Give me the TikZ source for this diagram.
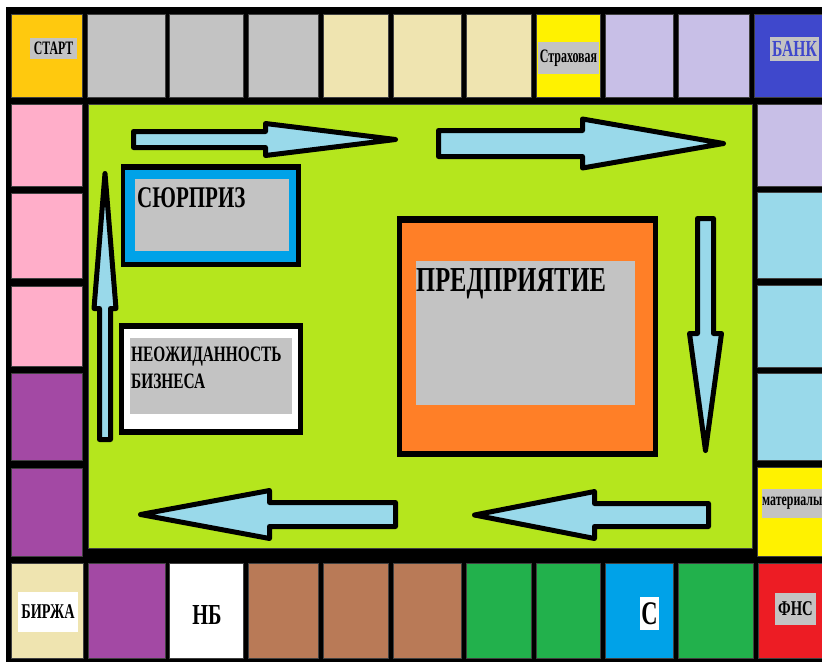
\documentclass[tikz,border=0pt]{standalone}
\usepackage{fontspec}
\setmainfont{Liberation Serif}
\usepackage{graphicx}

\definecolor{startyel}{HTML}{FFC90E}
\definecolor{cellgray}{HTML}{C3C3C3}
\definecolor{sand}{HTML}{EFE4B0}
\definecolor{paintyel}{HTML}{FFF200}
\definecolor{lilac}{HTML}{C8BFE7}
\definecolor{bankblue}{HTML}{3F48CC}
\definecolor{rosepink}{HTML}{FFAEC9}
\definecolor{plum}{HTML}{A349A4}
\definecolor{skyblue}{HTML}{99D9EA}
\definecolor{boardgreen}{HTML}{B5E61D}
\definecolor{clay}{HTML}{B97A57}
\definecolor{grassgreen}{HTML}{22B14C}
\definecolor{seablue}{HTML}{00A2E8}
\definecolor{paintred}{HTML}{ED1C24}
\definecolor{paintorange}{HTML}{FF7F27}

\newcommand{\narrowtxt}[2][0.7]{\scalebox{#1}[1]{#2}}

\tikzset{
  cell/.style={draw=black!75, line width=0.8pt},
  flow/.style={fill=skyblue, draw=black, line width=5pt, line join=round},
  tag/.style={fill=cellgray, inner sep=0pt},
  lbl/.style={font=\bfseries\fontsize{#1}{#1}\selectfont, inner sep=0pt}
}

\begin{document}
\begin{tikzpicture}[x=1pt, y=-1pt]
    \useasboundingbox (0,0) rectangle (822,662);
    % Board background
    \fill[white] (0,0) rectangle (822,662);
    \fill[black] (6,7) rectangle (822,662);
    % Top row
    \foreach \a/\b/\c in {11/82/startyel, 87/165/cellgray, 169/243/cellgray,
        248/318/cellgray, 323/388/sand, 393/461/sand, 466/531/sand,
        536/600/paintyel, 605/673/lilac, 678/749/lilac, 754/826/bankblue}
        \filldraw[cell, fill=\c] (\a,14) rectangle (\b,97);
    % Bottom row
    \foreach \a/\b/\c in {11/83/sand, 88/165/plum, 169/243/white,
        248/318/clay, 323/388/clay, 393/461/clay, 466/531/grassgreen,
        536/600/grassgreen, 605/673/seablue, 678/753/grassgreen, 758/826/paintred}
        \filldraw[cell, fill=\c] (\a,563) rectangle (\b,658);
    % Left column
    \foreach \a/\b/\c in {104/186/rosepink, 193/278/rosepink, 286/366/rosepink,
        373/460/plum, 468/556/plum}
        \filldraw[cell, fill=\c] (11,\a) rectangle (82,\b);
    % Right column
    \foreach \a/\b/\c in {104/186/lilac, 192/278/skyblue, 285/367/skyblue,
        373/460/skyblue, 467/556/paintyel}
        \filldraw[cell, fill=\c] (757,\a) rectangle (826,\b);
    % Playing field
    \filldraw[cell, fill=boardgreen] (88,104) rectangle (752,548);
    % Surprise card box
    \fill[black] (121,164) rectangle (301,267);
    \fill[seablue] (125,170) rectangle (296,262);
    \fill[cellgray] (135,179) rectangle (289,251);
    % Business card box
    \fill[black] (119,323) rectangle (303,435);
    \fill[white] (124,329) rectangle (298,429);
    \fill[cellgray] (130,338) rectangle (292,414);
    % Enterprise box
    \fill[black] (397,216) rectangle (658,457);
    \fill[paintorange] (402,223) rectangle (653,451);
    \fill[cellgray] (416,261) rectangle (635,405);
    % Direction arrows
    \filldraw[flow] (133.5,131.5) -- (265.5,131.5) -- (265.5,123.5) -- (395.5,139.5)
        -- (265.5,155.5) -- (265.5,147.5) -- (133.5,147.5) -- cycle;
    \filldraw[flow] (438.5,130.5) -- (582.5,130.5) -- (582.5,119) -- (723.5,143.5)
        -- (582.5,168) -- (582.5,156.5) -- (438.5,156.5) -- cycle;
    \filldraw[flow] (697.5,218.5) -- (697.5,333.5) -- (689.5,333.5) -- (705.5,450.5)
        -- (721.5,333.5) -- (713.5,333.5) -- (713.5,218.5) -- cycle;
    \filldraw[flow] (708.5,503.5) -- (594.5,503.5) -- (594.5,491.5) -- (474.5,515)
        -- (594.5,538.5) -- (594.5,526.5) -- (708.5,526.5) -- cycle;
    \filldraw[flow] (395.5,502.5) -- (269.5,502.5) -- (269.5,490.5) -- (140.5,514.5)
        -- (269.5,538.5) -- (269.5,526.5) -- (395.5,526.5) -- cycle;
    \filldraw[flow] (99.5,439.5) -- (99.5,308.5) -- (94,308.5) -- (105,173.5)
        -- (116,308.5) -- (110.5,308.5) -- (110.5,439.5) -- cycle;
    % Cell labels
    \node[tag, lbl=19, minimum width=47, minimum height=21] (start) at (53.5,48.5) {\narrowtxt[0.62]{СТАРТ}};
    \node[tag, lbl=19, minimum width=61, minimum height=32] (insure) at (568.5,58) {\narrowtxt[0.63]{Страховая}};
    \node[tag, lbl=23, text=bankblue, minimum width=49, minimum height=24] (bank) at (794.5,49) {\narrowtxt[0.68]{БАНК}};
    \node[tag, lbl=21, fill=white, minimum width=60, minimum height=40] (exchange) at (48,612) {\narrowtxt[0.68]{БИРЖА}};
    \node[lbl=29] (nb) at (207,615) {\narrowtxt{НБ}};
    \node[tag, lbl=33, fill=white, minimum width=19, minimum height=33] (cplace) at (649.5,613.5) {\narrowtxt[0.68]{С}};
    \node[tag, lbl=21, minimum width=41, minimum height=32] (fns) at (795.5,609) {\narrowtxt[0.7]{ФНС}};
    \node[tag, lbl=18, anchor=west, minimum width=60, minimum height=29] (materials) at (762,503.5) {\narrowtxt[0.66]{материалы}};
    % Field labels
    \node[lbl=30, anchor=base west] (surprise) at (137,207) {\narrowtxt{СЮРПРИЗ}};
    \node[lbl=22, anchor=base west] (unexpected) at (131,361) {\narrowtxt{НЕОЖИДАННОСТЬ}};
    \node[lbl=22, anchor=base west] (business) at (131,388) {\narrowtxt{БИЗНЕСА}};
    \node[lbl=35, anchor=base west] (enterprise) at (416,291) {\narrowtxt{ПРЕДПРИЯТИЕ}};
\end{tikzpicture}
\end{document}
